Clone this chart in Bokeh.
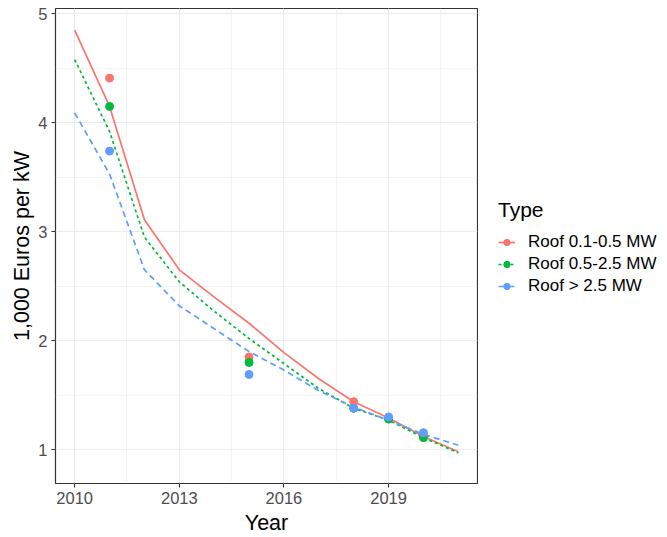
from bokeh.plotting import figure
from bokeh.layouts import row
from bokeh.models import Range1d, SingleIntervalTicker, Legend, LegendItem
from bokeh.embed import file_html
from bokeh.resources import INLINE

# Fitted cost curves, one value per year
years = [2010, 2011, 2012, 2013, 2014, 2015, 2016, 2017, 2018, 2019, 2020, 2021]
fit_small = [4.85, 4.15, 3.11, 2.65, 2.40, 2.16, 1.89, 1.65, 1.44, 1.29, 1.12, 0.98]
fit_mid = [4.58, 3.92, 2.95, 2.54, 2.27, 2.02, 1.79, 1.56, 1.38, 1.27, 1.11, 0.97]
fit_large = [4.09, 3.53, 2.65, 2.32, 2.11, 1.90, 1.73, 1.54, 1.39, 1.27, 1.14, 1.04]

# Observed costs
obs_years = [2011, 2015, 2018, 2019, 2020]
obs_small = [4.41, 1.85, 1.44, 1.29, 1.13]
obs_mid = [4.15, 1.80, 1.38, 1.28, 1.11]
obs_large = [3.74, 1.69, 1.38, 1.30, 1.155]

type_labels = ["Roof 0.1-0.5 MW", "Roof 0.5-2.5 MW", "Roof > 2.5 MW"]
colors = ["#F8766D", "#00BA38", "#619CFF"]
dashes = ["solid", "3 3", "6 4"]

FONT = "Liberation Sans"

fits = [fit_small, fit_mid, fit_large]
obs = [obs_small, obs_mid, obs_large]


def draw_series(fig):
    lines, points = [], []
    for vals, c, d in zip(fits, colors, dashes):
        lines.append(fig.line(years, vals, line_color=c, line_width=1.7, line_dash=d))
    for vals, c in zip(obs, colors):
        points.append(fig.scatter(obs_years, vals, marker="circle", size=8,
                                  fill_color=c, line_color=c))
    return lines, points


# Main panel
p = figure(
    width=478, height=537,
    x_range=Range1d(2009.45, 2021.55), y_range=Range1d(0.689, 5.049),
    output_backend="svg", toolbar_location=None,
    min_border_left=55, min_border_right=1, min_border_top=8, min_border_bottom=53,
    background_fill_color="white", border_fill_color="white",
    outline_line_color="#333333", outline_line_width=1.2,
)

p.xaxis.ticker = SingleIntervalTicker(interval=3, num_minor_ticks=2)
p.yaxis.ticker = SingleIntervalTicker(interval=1, num_minor_ticks=2)

for ax in (p.xaxis[0], p.yaxis[0]):
    ax.axis_line_color = None
    ax.major_tick_line_color = "#333333"
    ax.major_tick_line_width = 1.1
    ax.major_tick_out = 4
    ax.major_tick_in = 0
    ax.minor_tick_line_color = None
    ax.major_label_text_font = FONT
    ax.major_label_text_font_size = "16.5px"
    ax.major_label_text_color = "#4D4D4D"
    ax.axis_label_text_font = FONT
    ax.axis_label_text_font_size = "21.5px"
    ax.axis_label_text_font_style = "normal"
    ax.axis_label_text_color = "black"
    ax.major_label_standoff = 4

p.xaxis.axis_label = "Year"
p.yaxis.axis_label = "1,000 Euros per kW"
p.xaxis.axis_label_standoff = 4
p.yaxis.axis_label_standoff = 1

for g in (p.xgrid[0], p.ygrid[0]):
    g.grid_line_color = "#EBEBEB"
    g.grid_line_width = 1.1
    g.minor_grid_line_color = "#EBEBEB"
    g.minor_grid_line_width = 0.55

line_rs, pt_rs = draw_series(p)

# Legend panel: same series, drawn outside its ranges so only the keys show
leg = figure(
    width=189, height=537, x_range=Range1d(0, 1), y_range=Range1d(0, 1),
    output_backend="svg", toolbar_location=None,
    x_axis_type=None, y_axis_type=None, min_border=0,
    outline_line_color=None, background_fill_color="white", border_fill_color="white",
)
leg.grid.visible = False
leg_lines, leg_points = draw_series(leg)

items = [LegendItem(label=lab, renderers=[lr, pr])
         for lab, lr, pr in zip(type_labels, leg_lines, leg_points)]
legend = Legend(
    items=items, location=(20, 187),
    title="Type", title_text_font=FONT, title_text_font_size="21px",
    title_text_font_style="normal", title_text_color="black", title_standoff=10,
    label_text_font=FONT, label_text_font_size="17px", label_text_color="black",
    label_standoff=13, glyph_width=17, glyph_height=16, spacing=2, padding=0, margin=0,
    border_line_color=None, background_fill_alpha=0,
)
leg.add_layout(legend, "center")

layout = row(p, leg)
open("out.html", "w").write(file_html(layout, INLINE))
